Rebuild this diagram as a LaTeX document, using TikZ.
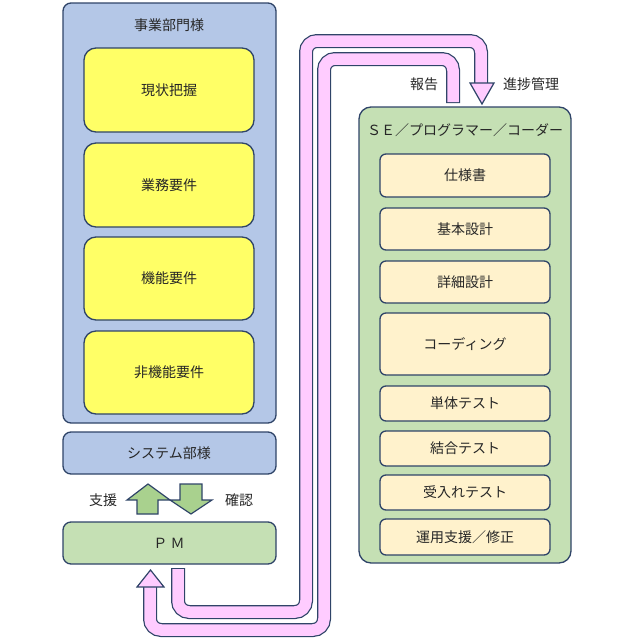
\documentclass[tikz,border=0pt]{standalone}
\usepackage{fontspec}
\setmainfont{Noto Sans CJK JP}
\begin{document}
\begin{tikzpicture}[x=1pt,y=-1pt,
  bx/.style={draw=edge,line width=1.3pt,rounded corners=8pt},
  lbl/.style={font=\fontsize{14}{16}\selectfont,text=black!85},
  band/.style={line width=14pt,draw=edge,rounded corners=11pt},
  bandin/.style={line width=11.5pt,draw=pinkf,rounded corners=11pt},
  ]
\definecolor{edge}{HTML}{2F4468}
\definecolor{bluef}{HTML}{B4C7E7}
\definecolor{yel}{HTML}{FFFF66}
\definecolor{greenf}{HTML}{C5E0B4}
\definecolor{cream}{HTML}{FFF2CC}
\definecolor{pinkf}{HTML}{FFCCFF}
\definecolor{garrow}{HTML}{A9D18E}
\useasboundingbox (0,0) rectangle (640,640);
% left
\draw[bx,fill=bluef] (63,3) rectangle (276,423);
\node[lbl] (jg) at (169,25) {事業部門様};
\foreach \n/\a/\b/\t in {y1/48/132/現状把握,y2/143/227/業務要件,y3/237/320/機能要件,y4/331/414/非機能要件}{
  \draw[bx,fill=yel,rounded corners=12pt] (84,\a) rectangle (254,\b);
  \node[lbl] (\n) at (169,{(\a+\b)/2}) {\t};
}
\draw[bx,fill=bluef] (63,432) rectangle (276,474);
\node[lbl] (sys) at (169,453) {システム部様};
\draw[bx,fill=greenf] (63,522) rectangle (276,564);
\node[lbl] (pm) at (169,543) {Ｐ Ｍ};
\draw[edge,line width=1.2pt,fill=garrow,line join=miter] (137,514)--(137,500)--(127,500)--(148,484)--(170,500)--(158,500)--(158,514)--cycle;
\draw[edge,line width=1.2pt,fill=garrow,line join=miter] (180,484)--(180,500)--(170,500)--(191,514)--(212,500)--(202,500)--(202,484)--cycle;
\node[lbl] (sh) at (103,500) {支援};
\node[lbl] (kn) at (239,500) {確認};
% right
\draw[bx,fill=greenf,rounded corners=12pt] (359,107) rectangle (571,563);
\node[lbl] (se) at (465,130) {ＳＥ／プログラマー／コーダー};
\foreach \n/\a/\b/\t in {r1/154/197/仕様書,r2/208/250/基本設計,r3/261/303/詳細設計,r4/313/375/コーディング,r5/386/421/単体テスト,r6/431/466/結合テスト,r7/475/510/受入れテスト,r8/519/555/運用支援／修正}{
  \draw[bx,fill=cream,rounded corners=6pt] (380,\a) rectangle (550,\b);
  \node[lbl] (\n) at (465,{(\a+\b)/2}) {\t};
}
% bands
\draw[band] (178,568)--(178,612)--(306,612)--(306,41)--(481,41)--(481,84);
\draw[bandin] (178,569)--(178,612)--(306,612)--(306,41)--(481,41)--(481,86);
\draw[edge,line width=1.2pt,fill=pinkf,line join=miter] (470,83)--(494,83)--(482,104)--cycle;
\draw[band] (453,103)--(453,59)--(324,59)--(324,630)--(150,630)--(150,586);
\draw[bandin] (453,102)--(453,59)--(324,59)--(324,630)--(150,630)--(150,584);
\draw[edge,line width=1.2pt,fill=pinkf,line join=miter] (137,587)--(164,587)--(150.5,570)--cycle;
\node[lbl] (hk) at (424,84) {報告};
\node[lbl] (sk) at (531,84) {進捗管理};
\end{tikzpicture}
\end{document}
